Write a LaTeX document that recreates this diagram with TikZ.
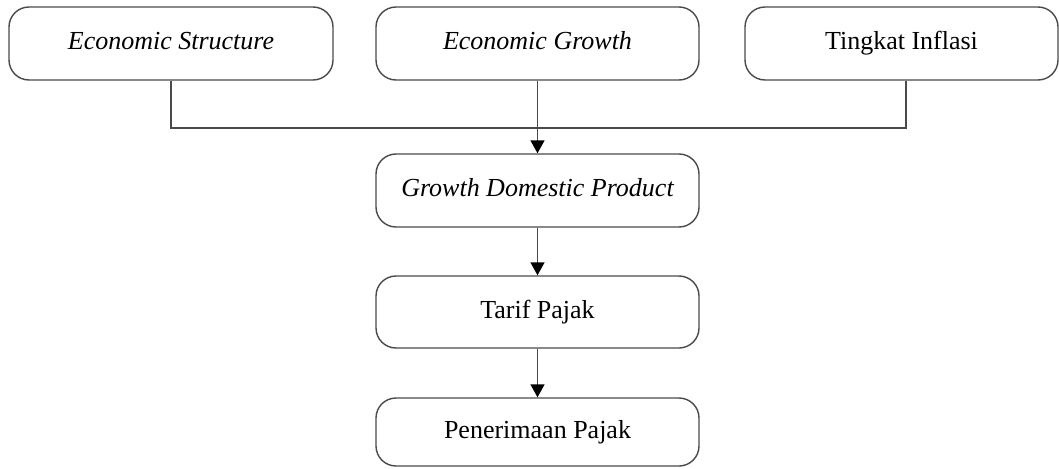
\documentclass[tikz,border=0pt]{standalone}
\usepackage{fontspec}
\setmainfont{Liberation Serif}
\usetikzlibrary{arrows.meta}
\definecolor{linegray}{HTML}{4A4A4A}
\tikzset{
  box/.style={draw=linegray, line width=1.4pt, rounded corners=20pt, minimum height=73pt, inner sep=0pt, text height=17pt, text depth=5pt, font=\fontsize{26}{30}\selectfont, text=black},
  conn/.style={draw=linegray, line width=1.5pt},
  arr/.style={conn, -{Triangle[length=13pt,width=14pt,color=black]}}
}
\begin{document}
\begin{tikzpicture}[x=1pt,y=1pt]
\useasboundingbox (0,0) rectangle (1059,-468);
\node[box, minimum width=324pt] (b1) at (171,-43.5) {\itshape Economic Structure};
\node[box, minimum width=323pt] (b2) at (537.5,-43.5) {\itshape Economic Growth};
\node[box, minimum width=313pt] (b3) at (901.5,-43.5) {Tingkat Inflasi};
\node[box, minimum width=323pt] (gdp) at (537.5,-190.5) {\itshape Growth Domestic Product};
\node[box, minimum width=323pt, minimum height=72pt] (tarif) at (537.5,-312) {Tarif Pajak};
\node[box, minimum width=323pt, minimum height=68pt] (pen) at (537.5,-432) {Penerimaan Pajak};
\coordinate (j) at (b2.south |- 0,-128);
\coordinate (b3s) at ([xshift=4.5pt]b3.south);
\draw[conn] (b1.south) |- (j) -| (b3s);
\draw[arr] (b2.south) -- (gdp.north);
\draw[arr] (gdp.south) -- (tarif.north);
\draw[arr] (tarif.south) -- (pen.north);
\end{tikzpicture}
\end{document}
